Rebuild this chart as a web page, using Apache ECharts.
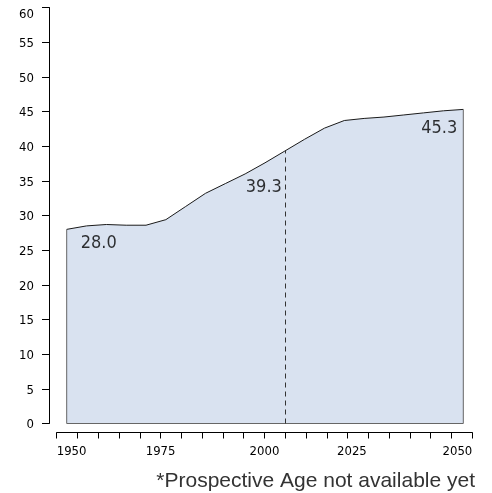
<!DOCTYPE html>
<html>
<head>
<meta charset="utf-8">
<script src="https://cdn.jsdelivr.net/npm/echarts@6/dist/echarts.min.js"></script>
<style>
html, body { margin: 0; padding: 0; background: #fff; }
#main { width: 492px; height: 493px; }
</style>
</head>
<body>
<div id="main"></div>
<script>
const years = [1950, 1955, 1960, 1965, 1970, 1975, 1980, 1985, 1990, 1995, 2000,
  2005, 2010, 2015, 2020, 2025, 2030, 2035, 2040, 2045, 2050];
const medianAge = [28.0, 28.5, 28.7, 28.6, 28.6, 29.4, 31.3, 33.2, 34.6, 36.0, 37.6,
  39.3, 41.0, 42.6, 43.7, 44.0, 44.2, 44.5, 44.8, 45.1, 45.3];
const xLabelYears = [1950, 1975, 2000, 2025, 2050];
const labelledYears = [1950, 2005, 2050];
const dividerYear = 2005;
const note = "*Prospective Age not available yet";

const narrow = '"Liberation Sans Narrow", "Arial Narrow", "DejaVu Sans Condensed", sans-serif';

const curve = years.map((y, i) => [y, medianAge[i]]);
const first = curve[0];
const last = curve[curve.length - 1];
const dividerValue = medianAge[years.indexOf(dividerYear)];

// label placement for the three highlighted values
const labelPlace = {
  1950: { align: 'center', offset: [32, 14] },
  2005: { align: 'right', offset: [-3, 36] },
  2050: { align: 'right', offset: [-6, 19] }
};
const labelPoints = labelledYears.map(y => ({
  value: [y, medianAge[years.indexOf(y)]],
  label: labelPlace[y]
}));

const option = {
  animation: false,
  backgroundColor: '#fff',
  grid: [
    { left: 66.7, right: 28.7, top: 7.5, bottom: 69.5 },
    { left: 56.7, right: 19.7, top: 7.5, bottom: 60.5 }
  ],
  xAxis: [
    { gridIndex: 0, type: 'value', min: 1950, max: 2050, show: false },
    {
      gridIndex: 1, type: 'value', min: 1950, max: 2050, interval: 5,
      axisLine: { lineStyle: { color: '#000', width: 1 } },
      axisTick: { length: 6, lineStyle: { color: '#000' } },
      splitLine: { show: false },
      axisLabel: {
        margin: 13,
        alignMinLabel: 'left',
        alignMaxLabel: 'right',
        formatter: v => {
          if (xLabelYears.indexOf(v) < 0) return '';
          return v === 2025 ? '{shift|' + v + '}' : '{n|' + v + '}';
        },
        rich: {
          n: { fontFamily: narrow, fontSize: 13, color: '#000' },
          shift: { fontFamily: narrow, fontSize: 13, color: '#000', padding: [0, 33, 0, 0] }
        }
      }
    }
  ],
  yAxis: [
    {
      gridIndex: 0, type: 'value', min: 0, max: 60, interval: 5, offset: 17.7,
      axisLine: { show: true, lineStyle: { color: '#000', width: 1 } },
      axisTick: { show: true, length: 7, lineStyle: { color: '#000' } },
      splitLine: { show: false },
      axisLabel: {
        margin: 15,
        formatter: v => v === 60 ? '{top|' + v + '}' : '{n|' + v + '}',
        rich: {
          n: { fontFamily: narrow, fontSize: 13, color: '#000', padding: [3, 0, 0, 0] },
          top: { fontFamily: narrow, fontSize: 13, color: '#000', padding: [15, 0, 0, 0] }
        }
      }
    },
    { gridIndex: 1, type: 'value', min: 0, max: 60, show: false }
  ],
  series: [
    {
      name: 'median age',
      type: 'line',
      xAxisIndex: 0, yAxisIndex: 0,
      data: curve,
      showSymbol: false,
      lineStyle: { color: '#1a1a1a', width: 1 },
      areaStyle: { color: '#d9e2f0', opacity: 1 },
      markLine: {
        silent: true,
        symbol: 'none',
        label: { show: false },
        lineStyle: { color: '#333', width: 1, type: [5, 4] },
        data: [[{ coord: [dividerYear, 0] }, { coord: [dividerYear, dividerValue] }]]
      },
      z: 2
    },
    {
      name: 'frame',
      type: 'line',
      xAxisIndex: 0, yAxisIndex: 0,
      data: [first, [first[0], 0], [last[0], 0], last],
      showSymbol: false,
      lineStyle: { color: '#666', width: 1 },
      z: 3
    },
    {
      name: 'labels',
      type: 'scatter',
      xAxisIndex: 0, yAxisIndex: 0,
      data: labelPoints,
      symbolSize: 1,
      itemStyle: { color: 'rgba(0,0,0,0)' },
      label: {
        show: true,
        position: 'inside',
        fontFamily: narrow,
        fontSize: 18,
        color: '#000',
        formatter: p => p.value[1].toFixed(1)
      },
      z: 4
    }
  ],
  graphic: [
    {
      type: 'text',
      x: 475, y: 481,
      style: {
        text: note,
        fontFamily: '"Liberation Sans", Arial, sans-serif',
        fontSize: 21,
        fill: '#333',
        align: 'right',
        verticalAlign: 'middle'
      }
    }
  ]
};

const myChart = echarts.init(document.getElementById('main'));
myChart.setOption(option);
</script>
</body>
</html>
